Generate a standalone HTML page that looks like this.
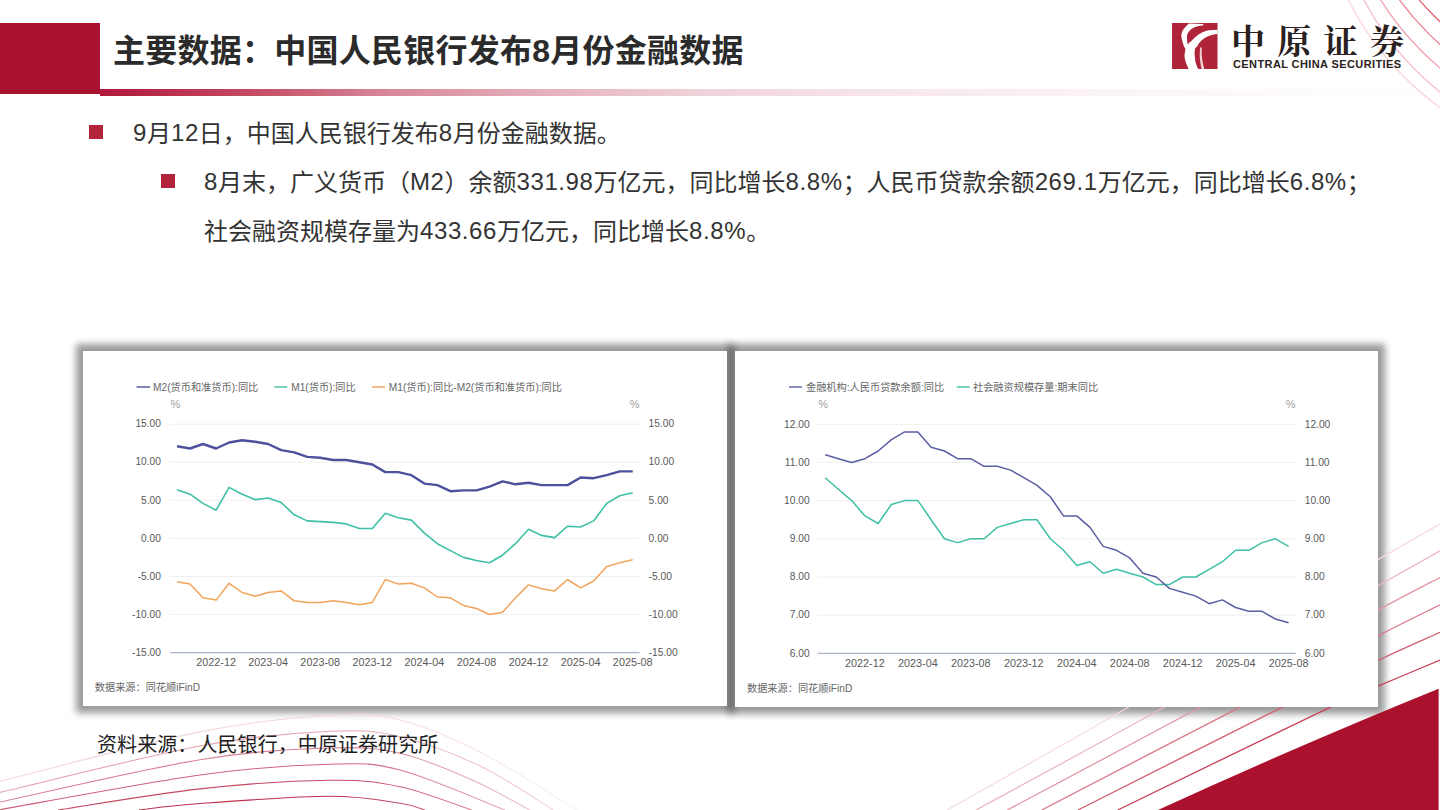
<!DOCTYPE html>
<html lang="zh-CN"><head><meta charset="utf-8"><title>主要数据：中国人民银行发布8月份金融数据</title>
<style>
html,body{margin:0;padding:0;background:#fff}
body{width:1440px;height:810px;position:relative;overflow:hidden;font-family:"Liberation Sans","Noto Sans CJK SC",sans-serif;color:#333}
.a{position:absolute}
#redblk{left:0;top:22.5px;width:100px;height:71.7px;background:#a9132f}
#bar{left:100px;top:89px;width:1340px;height:6.8px;background:linear-gradient(90deg,#b0173a 0%,#c44a62 11%,#d88a9b 22%,#e6b3be 34%,#efd3da 45%,#f7e8ec 60%,#fbf4f6 75%,#fff 100%)}
#title{left:113px;top:30px;font-size:32px;font-weight:bold;color:#2b2b2b;white-space:nowrap;line-height:42px;letter-spacing:0.25px}
.bul{width:14px;height:14px;background:#b0233a}
.tx{font-size:24px;color:#333;white-space:nowrap;line-height:30px}
.l{letter-spacing:0.6px;position:relative;top:-1px}
.shd{background:#fff;box-shadow:0 0 7px 7px rgba(0,0,0,0.4)}
.card{background:#fff}
#foot{left:97px;top:730px;font-size:20px;color:#1f1f1f;white-space:nowrap;line-height:30px;letter-spacing:0.08px}
svg text{font-family:"Liberation Sans","Noto Sans CJK SC",sans-serif}
.ax{font-size:11.5px;fill:#595959}
.lg{font-size:10.2px;fill:#666}
.pc{font-size:11px;fill:#a0a0a0}
</style></head><body>
<div class="a shd" style="left:83px;top:351px;width:644px;height:355px"></div>
<div class="a shd" style="left:735px;top:351px;width:643px;height:356px"></div>
<svg class="a" style="left:0;top:0" width="1440" height="810" viewBox="0 0 1440 810">
<defs>
<linearGradient id="gBL" gradientUnits="userSpaceOnUse" x1="0" y1="0" x2="580" y2="0">
<stop offset="0" stop-color="#b81a3c"/><stop offset="0.6" stop-color="#b81a3c"/><stop offset="1" stop-color="#e8b0bc"/>
</linearGradient>
</defs>
<linearGradient id="gBL0" gradientUnits="userSpaceOnUse" x1="0" y1="0" x2="580" y2="0"><stop offset="0" stop-color="#f2d6dc"/><stop offset="0.6" stop-color="#f2d6dc"/><stop offset="1" stop-color="#fbf1f3"/></linearGradient>
<path d="M0.0,781.3 C33.3,773.1 145.0,742.9 200.0,731.9 C255.0,720.9 296.7,717.3 330.0,715.3 C363.3,713.3 375.0,713.9 400.0,720.0 C425.0,726.1 450.6,737.0 480.0,752.0 C509.4,767.0 560.6,800.3 576.7,810.0" fill="none" stroke="url(#gBL0)" stroke-width="1.1"/>
<linearGradient id="gBL1" gradientUnits="userSpaceOnUse" x1="0" y1="0" x2="580" y2="0"><stop offset="0" stop-color="#e3a3b1"/><stop offset="0.6" stop-color="#e3a3b1"/><stop offset="1" stop-color="#f6dfe4"/></linearGradient>
<path d="M0.0,792.4 C33.3,784.7 145.0,756.2 200.0,746.0 C255.0,735.8 296.7,732.8 330.0,731.3 C363.3,729.8 375.0,730.9 400.0,736.7 C425.0,742.5 454.4,753.8 480.0,766.0 C505.6,778.2 541.1,802.7 553.3,810.0" fill="none" stroke="url(#gBL1)" stroke-width="1.1"/>
<linearGradient id="gBL2" gradientUnits="userSpaceOnUse" x1="0" y1="0" x2="580" y2="0"><stop offset="0" stop-color="#d88194"/><stop offset="0.6" stop-color="#d88194"/><stop offset="1" stop-color="#f2d4da"/></linearGradient>
<path d="M0.0,802.0 C33.3,795.0 145.0,768.7 200.0,759.7 C255.0,750.7 296.7,749.1 330.0,748.0 C363.3,746.9 376.7,748.1 400.0,753.3 C423.3,758.5 448.3,769.5 470.0,779.0 C491.7,788.5 520.0,804.8 530.0,810.0" fill="none" stroke="url(#gBL2)" stroke-width="1.1"/>
<linearGradient id="gBL3" gradientUnits="userSpaceOnUse" x1="0" y1="0" x2="580" y2="0"><stop offset="0" stop-color="#cf637a"/><stop offset="0.6" stop-color="#cf637a"/><stop offset="1" stop-color="#efc9d1"/></linearGradient>
<path d="M0.0,809.7 C33.3,803.9 145.0,782.6 200.0,775.0 C255.0,767.4 296.7,765.0 330.0,764.2 C363.3,763.4 370.8,762.4 400.0,770.0 C429.2,777.6 487.5,803.3 505.0,810.0" fill="none" stroke="url(#gBL3)" stroke-width="1.1"/>
<linearGradient id="gBL4" gradientUnits="userSpaceOnUse" x1="0" y1="0" x2="580" y2="0"><stop offset="0" stop-color="#c64863"/><stop offset="0.6" stop-color="#c64863"/><stop offset="1" stop-color="#edc0c9"/></linearGradient>
<path d="M58.0,810.0 C81.7,806.5 154.7,793.9 200.0,788.9 C245.3,783.9 296.7,780.7 330.0,780.3 C363.3,779.9 376.4,781.8 400.0,786.7 C423.6,791.7 459.8,806.1 471.7,810.0" fill="none" stroke="url(#gBL4)" stroke-width="1.1"/>
<linearGradient id="gBL5" gradientUnits="userSpaceOnUse" x1="0" y1="0" x2="580" y2="0"><stop offset="0" stop-color="#bf3150"/><stop offset="0.6" stop-color="#bf3150"/><stop offset="1" stop-color="#eab8c3"/></linearGradient>
<path d="M139.0,810.0 C149.2,808.9 168.2,805.8 200.0,803.5 C231.8,801.2 296.7,796.3 330.0,796.3 C363.3,796.3 384.2,801.0 400.0,803.3 C415.8,805.6 420.8,808.9 425.0,810.0" fill="none" stroke="url(#gBL5)" stroke-width="1.1"/>
<path d="M947.0,810.0 C977.3,792.8 1057.2,748.5 1129.0,706.8 C1200.8,665.1 1326.2,590.3 1378.0,559.8 C1429.8,529.3 1429.7,530.0 1440.0,524.0" fill="none" stroke="#f5dbe0" stroke-width="1.3"/>
<path d="M976.0,810.0 C1007.5,792.8 1098.0,744.2 1165.0,706.8 C1232.0,669.4 1332.2,611.8 1378.0,585.8 C1423.8,559.8 1429.7,556.7 1440.0,550.9" fill="none" stroke="#ebb8c1" stroke-width="1.3"/>
<path d="M1007.3,810.0 C1039.6,792.8 1139.2,740.1 1201.0,706.8 C1262.8,673.5 1338.2,631.6 1378.0,610.1 C1417.8,588.6 1429.7,582.9 1440.0,577.5" fill="none" stroke="#e194a1" stroke-width="1.3"/>
<path d="M1041.7,810.0 C1074.8,792.8 1184.5,735.8 1240.6,706.8 C1296.6,677.8 1344.8,652.8 1378.0,635.8 C1411.2,618.8 1429.7,610.0 1440.0,604.8" fill="none" stroke="#d9798a" stroke-width="1.3"/>
<path d="M1078.0,810.0 C1112.2,792.8 1233.0,731.7 1283.0,706.8 C1333.0,681.9 1351.8,672.9 1378.0,660.5 C1404.2,648.1 1429.7,637.1 1440.0,632.4" fill="none" stroke="#d25e73" stroke-width="1.3"/>
<path d="M1117.7,810.0 C1153.2,792.8 1287.6,727.4 1331.0,706.8 C1374.4,686.2 1359.8,694.0 1378.0,686.2 C1396.2,678.4 1429.7,664.5 1440.0,660.1" fill="none" stroke="#c94159" stroke-width="1.3"/>
<path d="M1158,810 Q1300,745 1438.6,688.8 L1438.6,810 Z" fill="#ab112c"/>
</svg>
<div id="redblk" class="a"></div>
<div id="bar" class="a"></div>
<svg class="a" style="left:0;top:0" width="1440" height="130" viewBox="0 0 1440 130">
<circle cx="1614.6" cy="-134.0" r="298" fill="none" stroke="#e0203a" stroke-opacity="0.2" stroke-width="1.2"/>
<circle cx="1620.8" cy="-134.7" r="290" fill="none" stroke="#e0203a" stroke-opacity="0.32" stroke-width="1.2"/>
<circle cx="1626.3" cy="-154.3" r="290" fill="none" stroke="#e0203a" stroke-opacity="0.45" stroke-width="1.2"/>
<circle cx="1632.9" cy="-172.2" r="290" fill="none" stroke="#e0203a" stroke-opacity="0.6" stroke-width="1.2"/>
<circle cx="1639.2" cy="-189.1" r="290" fill="none" stroke="#e0203a" stroke-opacity="0.75" stroke-width="1.2"/>
</svg>
<div id="title" class="a">主要数据：中国人民银行发布8月份金融数据</div>
<!-- logo -->
<svg class="a" style="left:1172px;top:23px" width="46" height="46" viewBox="0 0 46 46">
<rect width="45.5" height="46" fill="#af2439"/>
<path d="M17,0.5 L31,1 C31.5,1.5 31.5,2.3 31,2.6 C27,3 24,3.5 21,5 C17.5,7 15.2,10 15,13 C14.9,16 15.3,19 15.6,21.5 C17,20 18,19 19.5,18 C21,16 22.5,14.5 24,13.5 C26,12 28,10.5 30,9.5 C32.5,8.3 35,7.6 37,7.3 C40,6.9 43,6.7 45.5,6.7 L45.5,11 C43,11.3 40.5,11.8 38,12.5 C36,13.2 34,14.3 32,15.5 C30.5,16.6 29,17.8 28,19 C26.8,20.3 26,21.6 25.5,23 C24,24.5 23.2,25 23,26 C22.6,28 22.5,30 22.7,32 C22.9,34 23,36 23.3,38 C23.7,40 24.4,42 25.2,44 L26.2,46 L16.6,46 L15.7,44 C14.8,42 14,40 13.4,38 C12.8,36 12.4,34 12.5,32 C12.6,30 13.3,28 13.4,26 C13.3,25 12.2,24 11.8,23 C11.3,21.6 11,20.5 10.6,19 C10,17.3 9.5,15.7 9.5,14 C9.3,12.5 9.2,11 9.8,9.5 C10.5,7.8 11.5,6.2 12.5,5 C14,3.2 15.5,1.6 17,0.5 Z" fill="#fff"/>
<path d="M28.3,24.3 C27.2,30 27.8,38 29.6,46 L32.3,46 C30.2,39 29.2,31 29.8,24.8 Z" fill="#fff" opacity="0.8"/>
</svg>
<div class="a" style="left:1231px;top:19.5px;font-family:'Noto Serif CJK SC',serif;font-weight:bold;font-size:34px;letter-spacing:12.3px;color:#2a2120;white-space:nowrap;line-height:40px">中原证券</div>
<div class="a" style="left:1233px;top:57px;font-family:'Liberation Sans',sans-serif;font-weight:bold;font-size:11px;color:#2a2120;white-space:nowrap;line-height:14px;letter-spacing:0.4px">CENTRAL CHINA SECURITIES</div>
<!-- bullets -->
<div class="a bul" style="left:88.5px;top:125.2px"></div>
<div class="a tx" style="left:133px;top:118.5px"><span class="l">9</span>月<span class="l">12</span>日，中国人民银行发布<span class="l">8</span>月份金融数据。</div>
<div class="a bul" style="left:160.5px;top:174.3px"></div>
<div class="a tx" style="left:204px;top:167.5px"><span class="l">8</span>月末，广义货币（<span class="l">M2</span>）余额<span class="l">331.98</span>万亿元，同比增长<span class="l">8.8%</span>；人民币贷款余额<span class="l">269.1</span>万亿元，同比增长<span class="l">6.8%</span>；</div>
<div class="a tx" style="left:204px;top:216.5px">社会融资规模存量为<span class="l">433.66</span>万亿元，同比增长<span class="l">8.8%</span>。</div>
<!-- cards -->
<div class="a card" style="left:83px;top:351px;width:644px;height:355px"></div>
<div class="a card" style="left:735px;top:351px;width:643px;height:356px"></div>
<svg class="a" style="left:0;top:0" width="1440" height="810" viewBox="0 0 1440 810">
<line x1="170" y1="424.2" x2="639.6" y2="424.2" stroke="#efefef" stroke-width="1"/>
<line x1="170" y1="462.2" x2="639.6" y2="462.2" stroke="#efefef" stroke-width="1"/>
<line x1="170" y1="500.3" x2="639.6" y2="500.3" stroke="#efefef" stroke-width="1"/>
<line x1="170" y1="538.4" x2="639.6" y2="538.4" stroke="#efefef" stroke-width="1"/>
<line x1="170" y1="576.5" x2="639.6" y2="576.5" stroke="#efefef" stroke-width="1"/>
<line x1="170" y1="614.5" x2="639.6" y2="614.5" stroke="#efefef" stroke-width="1"/>
<line x1="170" y1="652.6" x2="639.6" y2="652.6" stroke="#a8b4cc" stroke-width="1.2"/>
<text transform="translate(161,427.4) scale(0.89,1)" text-anchor="end" class="ax">15.00</text>
<text transform="translate(648.6,427.4) scale(0.89,1)" class="ax">15.00</text>
<text transform="translate(161,465.4) scale(0.89,1)" text-anchor="end" class="ax">10.00</text>
<text transform="translate(648.6,465.4) scale(0.89,1)" class="ax">10.00</text>
<text transform="translate(161,503.5) scale(0.89,1)" text-anchor="end" class="ax">5.00</text>
<text transform="translate(648.6,503.5) scale(0.89,1)" class="ax">5.00</text>
<text transform="translate(161,541.6) scale(0.89,1)" text-anchor="end" class="ax">0.00</text>
<text transform="translate(648.6,541.6) scale(0.89,1)" class="ax">0.00</text>
<text transform="translate(161,579.7) scale(0.89,1)" text-anchor="end" class="ax">-5.00</text>
<text transform="translate(648.6,579.7) scale(0.89,1)" class="ax">-5.00</text>
<text transform="translate(161,617.8) scale(0.89,1)" text-anchor="end" class="ax">-10.00</text>
<text transform="translate(648.6,617.8) scale(0.89,1)" class="ax">-10.00</text>
<text transform="translate(161,655.8) scale(0.89,1)" text-anchor="end" class="ax">-15.00</text>
<text transform="translate(648.6,655.8) scale(0.89,1)" class="ax">-15.00</text>
<text x="170.5" y="408" class="pc">%</text>
<text x="639.6" y="408" text-anchor="end" class="pc">%</text>
<text transform="translate(216.1,666) scale(0.94,1)" text-anchor="middle" class="ax">2022-12</text>
<text transform="translate(268.1,666) scale(0.94,1)" text-anchor="middle" class="ax">2023-04</text>
<text transform="translate(320.2,666) scale(0.94,1)" text-anchor="middle" class="ax">2023-08</text>
<text transform="translate(372.3,666) scale(0.94,1)" text-anchor="middle" class="ax">2023-12</text>
<text transform="translate(424.4,666) scale(0.94,1)" text-anchor="middle" class="ax">2024-04</text>
<text transform="translate(476.5,666) scale(0.94,1)" text-anchor="middle" class="ax">2024-08</text>
<text transform="translate(528.5,666) scale(0.94,1)" text-anchor="middle" class="ax">2024-12</text>
<text transform="translate(580.6,666) scale(0.94,1)" text-anchor="middle" class="ax">2025-04</text>
<text transform="translate(632.7,666) scale(0.94,1)" text-anchor="middle" class="ax">2025-08</text>
<polyline points="177.0,581.8 190.0,584.1 203.0,597.8 216.1,600.1 229.1,583.3 242.1,592.5 255.1,596.3 268.1,592.5 281.2,590.9 294.2,600.8 307.2,602.4 320.2,602.4 333.2,600.8 346.3,602.4 359.3,604.7 372.3,602.4 385.3,579.5 398.3,584.1 411.4,583.3 424.4,587.9 437.4,597.0 450.4,597.8 463.4,605.4 476.5,608.5 489.5,614.5 502.5,612.3 515.5,597.8 528.5,584.9 541.6,588.7 554.6,590.9 567.6,579.5 580.6,587.9 593.6,581.0 606.7,566.6 619.7,562.8 632.7,559.7" fill="none" stroke="#f1a35a" stroke-width="1.5" stroke-linejoin="round"/>
<polyline points="177.0,489.7 190.0,494.2 203.0,503.4 216.1,510.2 229.1,487.4 242.1,494.2 255.1,499.6 268.1,498.0 281.2,502.6 294.2,514.8 307.2,520.9 320.2,521.6 333.2,522.4 346.3,523.9 359.3,528.5 372.3,528.5 385.3,513.3 398.3,517.8 411.4,520.1 424.4,533.1 437.4,543.7 450.4,550.6 463.4,557.4 476.5,560.5 489.5,562.8 502.5,555.2 515.5,543.7 528.5,529.3 541.6,535.4 554.6,537.6 567.6,526.2 580.6,527.0 593.6,520.9 606.7,503.4 619.7,495.8 632.7,492.7" fill="none" stroke="#3ec0a6" stroke-width="1.6" stroke-linejoin="round"/>
<polyline points="177.0,446.3 190.0,448.5 203.0,444.0 216.1,448.5 229.1,442.5 242.1,440.2 255.1,441.7 268.1,444.0 281.2,450.1 294.2,452.4 307.2,456.9 320.2,457.7 333.2,460.0 346.3,460.0 359.3,462.2 372.3,464.5 385.3,472.1 398.3,472.1 411.4,475.2 424.4,483.6 437.4,485.1 450.4,491.2 463.4,490.4 476.5,490.4 489.5,486.6 502.5,481.3 515.5,484.3 528.5,482.8 541.6,485.1 554.6,485.1 567.6,485.1 580.6,477.5 593.6,478.2 606.7,475.2 619.7,471.4 632.7,471.4" fill="none" stroke="#4d519c" stroke-width="2.4" stroke-linejoin="round"/>
<line x1="136.6" y1="387" x2="150" y2="387" stroke="#4d519c" stroke-width="1.4"/>
<text x="153" y="390.6" class="lg">M2(货币和准货币):同比</text>
<line x1="274.3" y1="387" x2="287.2" y2="387" stroke="#3ec0a6" stroke-width="1.4"/>
<text x="291.2" y="390.6" class="lg">M1(货币):同比</text>
<line x1="371.8" y1="387" x2="385.2" y2="387" stroke="#f1a35a" stroke-width="1.4"/>
<text x="388.8" y="390.6" class="lg">M1(货币):同比-M2(货币和准货币):同比</text>
<text x="94.8" y="691" class="lg">数据来源：同花顺iFinD</text>
<line x1="817.8" y1="424.3" x2="1295.6" y2="424.3" stroke="#efefef" stroke-width="1"/>
<line x1="817.8" y1="462.5" x2="1295.6" y2="462.5" stroke="#efefef" stroke-width="1"/>
<line x1="817.8" y1="500.6" x2="1295.6" y2="500.6" stroke="#efefef" stroke-width="1"/>
<line x1="817.8" y1="538.8" x2="1295.6" y2="538.8" stroke="#efefef" stroke-width="1"/>
<line x1="817.8" y1="577.0" x2="1295.6" y2="577.0" stroke="#efefef" stroke-width="1"/>
<line x1="817.8" y1="615.2" x2="1295.6" y2="615.2" stroke="#efefef" stroke-width="1"/>
<line x1="817.8" y1="653.3" x2="1295.6" y2="653.3" stroke="#a8b4cc" stroke-width="1.2"/>
<text transform="translate(809.6,427.5) scale(0.89,1)" text-anchor="end" class="ax">12.00</text>
<text transform="translate(1304.7,427.5) scale(0.89,1)" class="ax">12.00</text>
<text transform="translate(809.6,465.7) scale(0.89,1)" text-anchor="end" class="ax">11.00</text>
<text transform="translate(1304.7,465.7) scale(0.89,1)" class="ax">11.00</text>
<text transform="translate(809.6,503.8) scale(0.89,1)" text-anchor="end" class="ax">10.00</text>
<text transform="translate(1304.7,503.8) scale(0.89,1)" class="ax">10.00</text>
<text transform="translate(809.6,542.0) scale(0.89,1)" text-anchor="end" class="ax">9.00</text>
<text transform="translate(1304.7,542.0) scale(0.89,1)" class="ax">9.00</text>
<text transform="translate(809.6,580.2) scale(0.89,1)" text-anchor="end" class="ax">8.00</text>
<text transform="translate(1304.7,580.2) scale(0.89,1)" class="ax">8.00</text>
<text transform="translate(809.6,618.4) scale(0.89,1)" text-anchor="end" class="ax">7.00</text>
<text transform="translate(1304.7,618.4) scale(0.89,1)" class="ax">7.00</text>
<text transform="translate(809.6,656.5) scale(0.89,1)" text-anchor="end" class="ax">6.00</text>
<text transform="translate(1304.7,656.5) scale(0.89,1)" class="ax">6.00</text>
<text x="818.3" y="408" class="pc">%</text>
<text x="1295.6" y="408" text-anchor="end" class="pc">%</text>
<text transform="translate(864.9,666.5) scale(0.94,1)" text-anchor="middle" class="ax">2022-12</text>
<text transform="translate(917.9,666.5) scale(0.94,1)" text-anchor="middle" class="ax">2023-04</text>
<text transform="translate(970.8,666.5) scale(0.94,1)" text-anchor="middle" class="ax">2023-08</text>
<text transform="translate(1023.8,666.5) scale(0.94,1)" text-anchor="middle" class="ax">2023-12</text>
<text transform="translate(1076.8,666.5) scale(0.94,1)" text-anchor="middle" class="ax">2024-04</text>
<text transform="translate(1129.7,666.5) scale(0.94,1)" text-anchor="middle" class="ax">2024-08</text>
<text transform="translate(1182.7,666.5) scale(0.94,1)" text-anchor="middle" class="ax">2024-12</text>
<text transform="translate(1235.6,666.5) scale(0.94,1)" text-anchor="middle" class="ax">2025-04</text>
<text transform="translate(1288.6,666.5) scale(0.94,1)" text-anchor="middle" class="ax">2025-08</text>
<polyline points="825.2,477.7 838.4,489.2 851.7,500.6 864.9,515.9 878.2,523.5 891.4,504.5 904.6,500.6 917.9,500.6 931.1,519.7 944.4,538.8 957.6,542.6 970.8,538.8 984.1,538.8 997.3,527.4 1010.6,523.5 1023.8,519.7 1037.0,519.7 1050.3,538.8 1063.5,550.3 1076.8,565.5 1090.0,561.7 1103.2,573.2 1116.5,569.3 1129.7,573.2 1143.0,577.0 1156.2,584.6 1169.4,584.6 1182.7,577.0 1195.9,577.0 1209.2,569.3 1222.4,561.7 1235.6,550.3 1248.9,550.3 1262.1,542.6 1275.4,538.8 1288.6,546.4" fill="none" stroke="#3ec0a6" stroke-width="1.5" stroke-linejoin="round"/>
<polyline points="825.2,454.8 838.4,458.7 851.7,462.5 864.9,458.7 878.2,451.0 891.4,439.6 904.6,431.9 917.9,431.9 931.1,447.2 944.4,451.0 957.6,458.7 970.8,458.7 984.1,466.3 997.3,466.3 1010.6,470.1 1023.8,477.7 1037.0,485.4 1050.3,496.8 1063.5,515.9 1076.8,515.9 1090.0,527.4 1103.2,546.4 1116.5,550.3 1129.7,557.9 1143.0,573.2 1156.2,577.0 1169.4,588.4 1182.7,592.2 1195.9,596.1 1209.2,603.7 1222.4,599.9 1235.6,607.5 1248.9,611.3 1262.1,611.3 1275.4,619.0 1288.6,622.8" fill="none" stroke="#5a5ea3" stroke-width="1.5" stroke-linejoin="round"/>
<line x1="789" y1="387" x2="802" y2="387" stroke="#5a5ea3" stroke-width="1.4"/>
<text x="806" y="390.6" class="lg">金融机构:人民币贷款余额:同比</text>
<line x1="956.7" y1="387" x2="969.7" y2="387" stroke="#3ec0a6" stroke-width="1.4"/>
<text x="973" y="390.6" class="lg">社会融资规模存量:期末同比</text>
<text x="747" y="692" class="lg">数据来源：同花顺iFinD</text>
</svg>
<div id="foot" class="a">资料来源：人民银行，中原证券研究所</div>
</body></html>
